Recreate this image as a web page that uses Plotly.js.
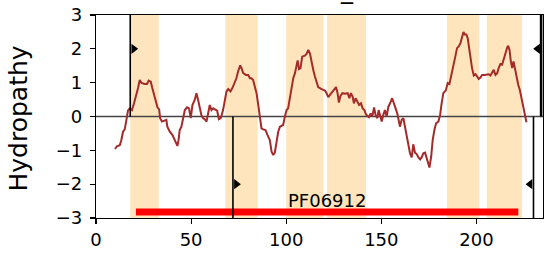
<!DOCTYPE html>
<html><head><meta charset="utf-8">
<script src="https://cdn.plot.ly/plotly-3.0.1.min.js"></script>
<style>html,body{margin:0;padding:0;background:#fff}#chart{width:559px;height:255px}</style>
</head><body><div id="chart"></div>
<script>
// ---- data ----
const residuePos = [10,11,12.5,13.3,14.2,15.1,16,16.8,17.7,18.9,20,21,22.1,23,23.9,25.6,26.8,27.7,28.8,29.6,30.5,31.4,32.3,33.2,33.7,34.7,35.8,37,37.5,38.8,40.2,41.4,42.3,42.8,43.4,44,44.9,45.8,46.7,47.9,48.9,49.8,50.7,51.9,52.8,53.7,54.6,55.4,56.3,57.2,58.1,58.9,59.8,60.7,61.6,62.5,63.7,64.6,65.6,66.8,67.7,68.6,69.5,70.7,71.7,73,73.8,74.7,75.8,76.5,77.4,78.8,80,80.9,81.7,82.6,83.5,84.4,85.3,86.2,87,87.9,89.1,90.2,91.4,92.3,93.2,94,94.9,95.8,96.7,97.5,98.4,99.3,100.2,101,101.9,102.8,103.7,104.6,105.4,106,106.7,107.5,108.4,109.8,110.7,111.6,112.5,113.3,114.2,115.1,116,116.8,118.6,120.4,121.2,122.1,123,124.2,125.3,126.2,127,127.7,128.4,129.5,130.9,132.3,133.2,134,134.9,135.6,136.5,137.4,138.3,139.3,140.2,141.1,141.9,142.8,143.5,144.4,145.3,146.2,147,147.9,148.6,149.5,150.2,151,151.9,152.8,153.7,154.6,155.7,157.2,158.4,159.8,160.7,161.6,162.5,163.3,164.2,165.1,166,166.8,167.7,168.6,169.5,170.4,171.2,172.1,173,173.8,174.7,175.3,176.2,177,177.9,178.8,180,180.9,181.7,182.6,183.9,184.9,185.8,186.7,187.4,188.9,189.8,190.7,191.6,192.5,193.2,193.8,194.7,195.4,196.3,197,197.7,198.6,199.5,200.4,201.2,202.1,203,204.2,205.6,206.5,207.4,208.3,209.1,210,210.9,211.7,212.6,213.5,214.4,215.3,216.2,216.7,217.4,218.1,218.8,219.5,220.2,220.9,222,222.8,223.7,224.6,225.4,226.3];
const hydropathy = [-0.96,-0.88,-0.85,-0.70,-0.45,-0.38,-0.10,0.17,0.24,0.19,0.39,0.59,0.84,1.08,0.99,0.96,0.96,1.06,1.03,0.84,0.64,0.49,0.27,0.21,-0.05,-0.15,-0.13,-0.10,-0.30,-0.45,-0.55,-0.70,-0.85,-0.87,-0.70,-0.40,-0.30,-0.05,0.19,0.27,0.24,-0.05,0.34,0.49,0.69,0.49,0.24,0.04,-0.05,-0.08,-0.15,0.04,0.34,0.19,0.24,0.21,0.17,-0.08,-0.05,0.19,0.49,0.74,0.81,0.74,0.84,0.99,1.13,1.33,1.51,1.43,1.28,1.23,1.23,1.13,1.13,1.08,0.84,0.69,0.34,-0.02,-0.35,-0.38,-0.40,-0.55,-0.70,-1.04,-1.14,-1.07,-0.70,-0.45,-0.30,-0.28,-0.25,0.0,0.19,0.24,0.54,0.84,1.13,1.28,1.48,1.66,1.40,1.43,1.77,1.80,1.85,1.97,1.85,1.58,1.38,1.18,0.99,0.87,0.81,0.77,0.69,0.57,0.64,0.74,0.81,0.87,0.69,0.41,0.59,0.69,0.67,0.69,0.54,0.69,0.59,0.39,0.54,0.44,0.34,0.39,0.24,0.19,0.07,0.01,-0.02,0.09,0.01,0.27,0.04,-0.05,0.19,0.0,-0.15,0.04,0.19,0.0,0.29,0.39,0.54,0.29,0.09,-0.30,-0.10,-0.05,-0.35,-0.60,-0.85,-1.09,-1.21,-0.82,-1.07,-1.11,-1.21,-1.27,-1.21,-1.09,-1.07,-1.21,-1.39,-1.51,-1.19,-0.70,-0.40,-0.20,-0.15,0.04,0.39,0.69,0.77,0.99,0.96,1.23,1.38,1.77,2.02,2.07,2.17,2.32,2.50,2.42,2.42,2.32,1.97,1.63,1.43,1.21,1.25,1.18,1.11,1.15,1.23,1.23,1.23,1.25,1.21,1.28,1.38,1.23,1.28,1.43,1.55,1.53,1.73,1.88,2.04,2.09,1.97,1.63,1.43,1.63,1.43,1.18,0.93,0.79,0.54,0.29,0.04,-0.17];
const tmSpanStart = [18, 68, 100, 121.5, 184.5, 205.5];
const tmSpanEnd   = [33, 85, 119.5, 142, 201.5, 224];
const topoX    = [18, 72, 230, 234];
const topoSide = [1, -1, -1, 1];
const topoDir  = ['right', 'right', 'left', 'left'];
const domainStart = [21];
const domainEnd   = [222];
const domainName  = ['PF06912'];
const seqLength = 235;
const xTicks = [0, 50, 100, 150, 200];
const yTicks = [-3, -2, -1, 0, 1, 2, 3];
const yTickText = yTicks.map(v => v < 0 ? '\u2212' + Math.abs(v) : String(v));
const titleText = '_';
const yLabel = 'Hydropathy';

// ---- styling constants ----
const FONT = 'DejaVu Sans, Verdana, sans-serif';
const markerLevel = 2, markerOffset = 1.8, domainY = -2.82;

const traces = [];
traces.push({x: residuePos, y: hydropathy, type: 'scatter', mode: 'lines',
  line: {color: '#a52a2a', width: 2}, hoverinfo: 'skip'});
// domain bars
domainStart.forEach((s, i) => {
  traces.push({x: [s, domainEnd[i]], y: [domainY, domainY], type: 'scatter', mode: 'lines',
    line: {color: '#ff0000', width: 7}, hoverinfo: 'skip'});
});
// topology markers
traces.push({
  x: topoX.map((x, i) => x + (topoDir[i] === 'right' ? markerOffset : -markerOffset)),
  y: topoSide.map(s => s * markerLevel),
  type: 'scatter', mode: 'markers',
  marker: {symbol: topoDir.map(d => d === 'right' ? 'triangle-right' : 'triangle-left'),
           size: 9, color: '#000'}, hoverinfo: 'skip'});

const shapes = [];
tmSpanStart.forEach((s, i) => shapes.push({type: 'rect', xref: 'x', yref: 'paper', x0: s, x1: tmSpanEnd[i],
  y0: 0, y1: 1, fillcolor: 'rgb(255,229,189)', line: {width: 0}, layer: 'below'}));
shapes.push({type: 'line', xref: 'paper', yref: 'y', x0: 0, x1: 1, y0: 0, y1: 0,
  line: {color: '#444', width: 1.5}, layer: 'below'});
topoX.forEach((x, i) => shapes.push({type: 'line', xref: 'x', yref: 'y', x0: x, x1: x,
  y0: 0, y1: topoSide[i] * 3, line: {color: '#000', width: i === topoX.length - 1 ? 2.6 : 1.6}}));

const annotations = [
  {text: titleText, xref: 'paper', yref: 'paper', x: 0.5615, y: 1, xanchor: 'center', yanchor: 'bottom',
   yshift: 9, showarrow: false, font: {family: FONT, size: 24, color: '#000'}},
  {text: yLabel, xref: 'paper', yref: 'paper', x: 0, y: 0.49, xshift: -77, xanchor: 'center', yanchor: 'middle',
   textangle: -90, showarrow: false, font: {family: FONT, size: 25, color: '#000'}}
];
domainStart.forEach((s, i) => annotations.push({text: domainName[i], xref: 'x', yref: 'y',
  x: (s + domainEnd[i]) / 2, y: domainY, xanchor: 'center', yanchor: 'bottom', yshift: -1,
  showarrow: false, font: {family: FONT, size: 18, color: '#000'}}));

const axisCommon = {showgrid: false, zeroline: false, showline: true, mirror: true, linecolor: '#000',
  linewidth: 1.2, ticks: 'outside', ticklen: 5, tickwidth: 1.1, tickcolor: '#000',
  tickfont: {family: FONT, size: 18, color: '#000'}};

const layout = {
  width: 559, height: 255, margin: {l: 96, r: 16, t: 15, b: 37},
  paper_bgcolor: '#fff', plot_bgcolor: '#fff', showlegend: false,
  font: {family: FONT, color: '#000'},
  xaxis: Object.assign({}, axisCommon, {range: [0, seqLength], tickvals: xTicks, ticktext: xTicks.map(String)}),
  yaxis: Object.assign({}, axisCommon, {range: [-3, 3], tickvals: yTicks, ticktext: yTickText, ticklabelstandoff: 4}),
  shapes: shapes, annotations: annotations
};
Plotly.newPlot('chart', traces, layout, {displayModeBar: false, staticPlot: true});
</script></body></html>
